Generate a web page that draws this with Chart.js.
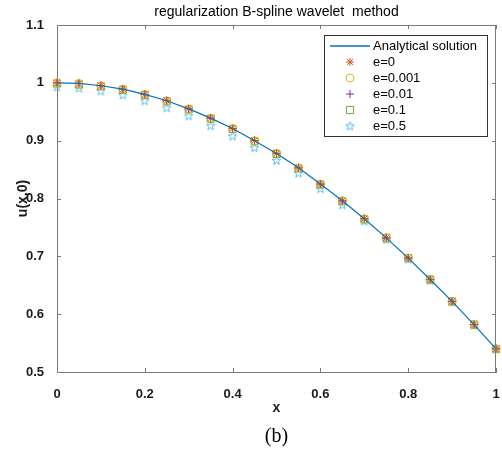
<!DOCTYPE html>
<html>
<head>
<meta charset="utf-8">
<script src="https://cdn.jsdelivr.net/npm/chart.js@4/dist/chart.umd.min.js"></script>
<style>
  html, body { margin: 0; padding: 0; background: #fff; }
  #wrap { width: 502px; height: 452px; }
</style>
</head>
<body>
<div id="wrap"><canvas id="waveChart" width="502" height="452"></canvas></div>
<script>
// datos
const xValues = [0, 0.05, 0.1, 0.15, 0.2, 0.25, 0.3, 0.35, 0.4, 0.45, 0.5,
                 0.55, 0.6, 0.65, 0.7, 0.75, 0.8, 0.85, 0.9, 0.95, 1];
const analytical = [1.000, 0.999, 0.995, 0.989, 0.980, 0.969, 0.955, 0.939, 0.921, 0.900, 0.878,
                    0.853, 0.825, 0.796, 0.765, 0.732, 0.697, 0.660, 0.622, 0.582, 0.540];
const e0 = [1.000, 0.999, 0.995, 0.989, 0.980, 0.969, 0.955, 0.939, 0.921, 0.900, 0.878,
            0.853, 0.825, 0.796, 0.765, 0.732, 0.697, 0.660, 0.622, 0.582, 0.540];
const e0001 = [1.000, 0.999, 0.995, 0.989, 0.980, 0.969, 0.955, 0.939, 0.921, 0.900, 0.878,
               0.853, 0.825, 0.796, 0.765, 0.732, 0.697, 0.660, 0.622, 0.582, 0.540];
const e001 = [1.000, 0.999, 0.995, 0.989, 0.980, 0.969, 0.955, 0.939, 0.921, 0.900, 0.878,
              0.853, 0.825, 0.796, 0.765, 0.732, 0.697, 0.660, 0.622, 0.582, 0.540];
const e01 = [0.999, 0.997, 0.994, 0.988, 0.979, 0.968, 0.954, 0.938, 0.920, 0.899, 0.877,
             0.852, 0.824, 0.795, 0.764, 0.732, 0.697, 0.660, 0.622, 0.582, 0.540];
const e05 = [0.993, 0.991, 0.986, 0.979, 0.969, 0.957, 0.943, 0.926, 0.908, 0.888, 0.866,
             0.844, 0.817, 0.789, 0.761, 0.729, 0.695, 0.658, 0.621, 0.581, 0.540];
const xTicks = [0, 0.2, 0.4, 0.6, 0.8, 1];
const yTicks = [0.5, 0.6, 0.7, 0.8, 0.9, 1, 1.1];
const legendLabels = ["Analytical solution", "e=0", "e=0.001", "e=0.01", "e=0.1", "e=0.5"];

const AXIS = "#7a7a7a";

function pts(arr) {
  return xValues.map((x, i) => ({ x: x, y: arr[i] }));
}

// estrella de cinco puntas (MATLAB 'p')
function pentagram(color) {
  const c = document.createElement("canvas");
  c.width = 11; c.height = 11;
  const g = c.getContext("2d");
  g.strokeStyle = color;
  g.lineWidth = 1;
  g.beginPath();
  for (let i = 0; i < 10; i++) {
    const r = i % 2 === 0 ? 4.6 : 1.9;
    const a = -Math.PI / 2 + i * Math.PI / 5;
    const px = 5.5 + r * Math.cos(a), py = 5.8 + r * Math.sin(a);
    if (i === 0) g.moveTo(px, py); else g.lineTo(px, py);
  }
  g.closePath();
  g.stroke();
  return c;
}

const datasets = [
  { label: legendLabels[0], data: pts(analytical), borderColor: "#0072BD", borderWidth: 1.2,
    pointRadius: 0, showLine: true, tension: 0, clip: false },
  { label: legendLabels[1], data: pts(e0), borderColor: "#D95319", backgroundColor: "#D95319",
    pointStyle: "star", pointRadius: 4, pointBorderWidth: 1, showLine: false, clip: false },
  { label: legendLabels[2], data: pts(e0001), borderColor: "#EDB120", backgroundColor: "transparent",
    pointStyle: "circle", pointRadius: 4, pointBorderWidth: 1, showLine: false, clip: false },
  { label: legendLabels[3], data: pts(e001), borderColor: "#7E2F8E", backgroundColor: "#7E2F8E",
    pointStyle: "cross", pointRadius: 4, pointBorderWidth: 1, showLine: false, clip: false },
  { label: legendLabels[4], data: pts(e01), borderColor: "#77AC30", backgroundColor: "transparent",
    pointStyle: "rect", pointRadius: 5, pointBorderWidth: 1, showLine: false, clip: false },
  { label: legendLabels[5], data: pts(e05), borderColor: "#4DBEEE", backgroundColor: "transparent",
    pointStyle: pentagram("#4DBEEE"), pointRadius: 4, pointBorderWidth: 1, showLine: false, clip: false }
];

// caja, marcas hacia dentro, titulo, leyenda y pie
const decorPlugin = {
  id: "decor",
  afterDraw(chart) {
    const { ctx, chartArea: a, scales } = chart;
    const xs = scales.x, ys = scales.y;
    ctx.save();
    ctx.strokeStyle = AXIS;
    ctx.lineWidth = 1;
    ctx.beginPath();
    ctx.moveTo(a.left, a.top + 0.5); ctx.lineTo(a.right, a.top + 0.5);
    ctx.moveTo(a.right - 0.5, a.top); ctx.lineTo(a.right - 0.5, a.bottom);
    xTicks.forEach(v => {
      const px = Math.round(xs.getPixelForValue(v)) + 0.5;
      ctx.moveTo(px, a.bottom); ctx.lineTo(px, a.bottom - 4);
      ctx.moveTo(px, a.top); ctx.lineTo(px, a.top + 4);
    });
    yTicks.forEach(v => {
      const py = Math.round(ys.getPixelForValue(v)) + 0.5;
      ctx.moveTo(a.left, py); ctx.lineTo(a.left + 4, py);
      ctx.moveTo(a.right, py); ctx.lineTo(a.right - 4, py);
    });
    ctx.stroke();

    // titulo
    ctx.fillStyle = "#000";
    ctx.font = "14px 'Liberation Sans', Arial, sans-serif";
    ctx.textAlign = "center";
    ctx.textBaseline = "middle";
    ctx.fillText("regularization B-spline wavelet  method", (a.left + a.right) / 2, 12);

    // pie (b)
    ctx.font = "20px 'Liberation Serif', 'Times New Roman', serif";
    ctx.fillText("(b)", (a.left + a.right) / 2, 437);

    // leyenda
    const lx = 324, ly = 35, lw = 163, lh = 101;
    ctx.fillStyle = "#fff";
    ctx.fillRect(lx, ly, lw, lh);
    ctx.strokeStyle = "#333";
    ctx.strokeRect(lx + 0.5, ly + 0.5, lw, lh);
    ctx.font = "13px 'Liberation Sans', Arial, sans-serif";
    ctx.textAlign = "left";
    chart.data.datasets.forEach((ds, i) => {
      const cy = 46 + i * 16;
      if (ds.showLine) {
        ctx.strokeStyle = ds.borderColor;
        ctx.lineWidth = 1.5;
        ctx.beginPath();
        ctx.moveTo(330, cy); ctx.lineTo(370, cy);
        ctx.stroke();
      } else if (Chart.helpers && Chart.helpers.drawPoint) {
        ctx.strokeStyle = ds.borderColor;
        ctx.fillStyle = ds.backgroundColor;
        ctx.lineWidth = 1;
        Chart.helpers.drawPoint(ctx, { pointStyle: ds.pointStyle, radius: ds.pointRadius,
          rotation: 0, borderWidth: 1 }, 350, cy);
      }
      ctx.fillStyle = "#000";
      ctx.fillText(ds.label, 373, cy);
    });
    ctx.restore();
  }
};

function fmt(v) {
  return String(Number(v.toFixed(1)));
}

const waveChart = new Chart(document.getElementById("waveChart").getContext("2d"), {
  type: "scatter",
  data: { datasets: datasets },
  options: {
    responsive: false,
    animation: false,
    events: [],
    layout: { padding: { left: 0, right: 5, top: 25, bottom: 35 } },
    plugins: { legend: { display: false }, tooltip: { enabled: false }, title: { display: false } },
    scales: {
      x: {
        type: "linear", min: 0, max: 1,
        afterBuildTicks: s => { s.ticks = xTicks.map(v => ({ value: v })); },
        afterFit: s => { s.height = 45; s.paddingRight = 0; s.paddingLeft = 0; },
        grid: { display: false },
        border: { display: true, color: AXIS, width: 1 },
        ticks: { color: "#1a1a1a", padding: 7, maxRotation: 0, callback: fmt,
                 font: { family: "'Liberation Sans', Arial, sans-serif", size: 13, weight: "bold" } },
        title: { display: true, text: "x", color: "#1a1a1a", padding: { top: 0, bottom: 0 },
                 font: { family: "'Liberation Sans', Arial, sans-serif", size: 14, weight: "bold" } }
      },
      y: {
        type: "linear", min: 0.5, max: 1.1,
        afterBuildTicks: s => { s.ticks = yTicks.map(v => ({ value: v })); },
        afterFit: s => { s.width = 57; s.paddingTop = 0; s.paddingBottom = 0; },
        grid: { display: false },
        border: { display: true, color: AXIS, width: 1 },
        ticks: { color: "#1a1a1a", padding: 5, callback: fmt,
                 font: { family: "'Liberation Sans', Arial, sans-serif", size: 13, weight: "bold" } },
        title: { display: true, text: "u(x,0)", color: "#1a1a1a", padding: { top: 15, bottom: 0 },
                 font: { family: "'Liberation Sans', Arial, sans-serif", size: 14, weight: "bold" } }
      }
    }
  },
  plugins: [decorPlugin]
});
</script>
</body>
</html>
